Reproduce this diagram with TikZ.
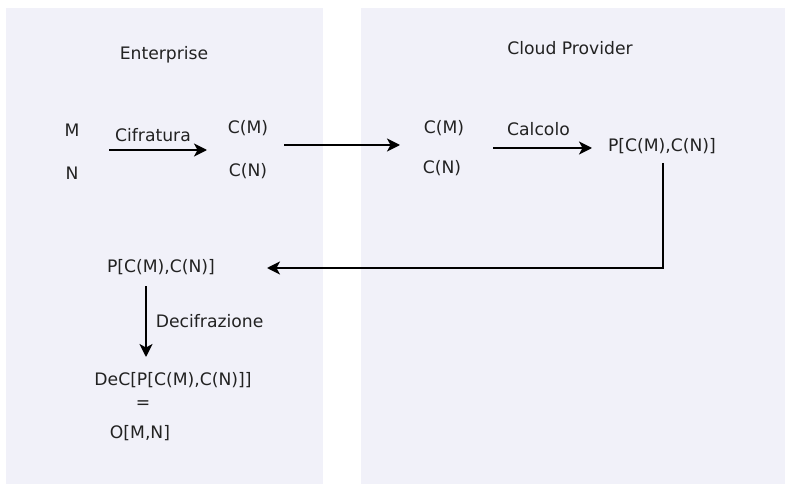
\documentclass[tikz,border=0pt]{standalone}
\usepackage{fontspec}
\setmainfont{DejaVu Sans}
\usepackage{tikz}
\usetikzlibrary{arrows.meta}
\definecolor{panelbg}{HTML}{F1F1F9}
\definecolor{textgray}{HTML}{222222}

\begin{document}
\begin{tikzpicture}[x=1pt,y=-1pt,->,>={Stealth[length=13pt,width=13pt,inset=3.5pt]},line width=1.7pt,
  every node/.style={font=\fontsize{17.2}{20}\selectfont,text=textgray,inner sep=1pt},
  panel/.style={fill=panelbg,draw=none},
  label node/.style={inner sep=1pt}]

  \useasboundingbox (0,0) rectangle (785,484);
  \fill[panel] (6,8) rectangle (323,484);
  \fill[panel] (361,8) rectangle (785,484);

  \node (ent) at (164,55) {Enterprise};
  \node (cloud) at (570,48) {Cloud Provider};

  \node (m) at (72,130) {M};
  \node (n) at (72,173) {N};
  \node (cm1) at (248,128) {C(M)};
  \node (cn1) at (248,171) {C(N)};
  \node (cm2) at (444,128) {C(M)};
  \node (cn2) at (442,168) {C(N)};
  \node (p1) at (662,146) {P[C(M),C(N)]};
  \node (p2) at (161,267) {P[C(M),C(N)]};
  \node (dec) at (173,380) {DeC[P[C(M),C(N)]]};
  \node (eq) at (143,405) {=};
  \node (o) at (140,433) {O[M,N]};

  \coordinate (a1) at (109,150);
  \coordinate (a2) at (207,150);
  \coordinate (b1) at (284,145);
  \coordinate (b2) at (400,145);
  \coordinate (c1) at (493,148);
  \coordinate (c2) at (592,148);
  \coordinate (d1) at (663,163);
  \coordinate (d2) at (663,268);
  \coordinate (d3) at (267,268);
  \coordinate (e1) at (146,286);
  \coordinate (e2) at (146,357);

  \draw (a1) -- node[above,label node,yshift=6pt,xshift=-5pt] {Cifratura} (a2);
  \draw (b1) -- (b2);
  \draw (c1) -- node[above,label node,yshift=10pt,xshift=-4pt] {Calcolo} (c2);
  \draw (d1) -- (d2) -- (d3);
  \draw (e1) -- node[right,label node,xshift=8pt] {Decifrazione} (e2);
\end{tikzpicture}
\end{document}
